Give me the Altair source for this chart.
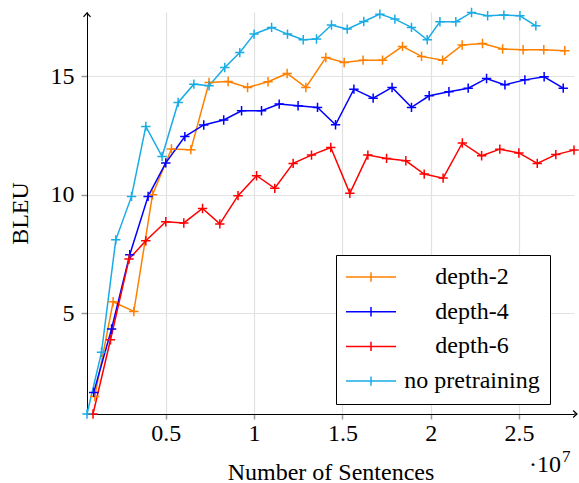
import altair as alt
import pandas as pd

# ---- data (x in units of 1e7 sentences, y = BLEU) ----
series_names = ["depth-2", "depth-4", "depth-6", "no pretraining"]
series_colors = ["#ff8000", "#0000ff", "#ff0000", "#1aace6"]

x_depth2 = [0.098, 0.202, 0.319, 0.425, 0.532, 0.642, 0.745, 0.853, 0.963, 1.079,
            1.187, 1.293, 1.406, 1.510, 1.617, 1.727, 1.840, 1.948, 2.067, 2.178,
            2.293, 2.407, 2.523, 2.640, 2.759]
y_depth2 = [1.50, 5.49, 5.08, 10.00, 11.93, 11.90, 14.73, 14.77, 14.52, 14.76,
            15.11, 14.52, 15.78, 15.57, 15.67, 15.67, 16.25, 15.83, 15.67, 16.31,
            16.37, 16.14, 16.11, 16.11, 16.07]

x_depth4 = [0.092, 0.193, 0.296, 0.400, 0.500, 0.608, 0.715, 0.828, 0.929, 1.042,
            1.142, 1.249, 1.359, 1.461, 1.565, 1.674, 1.781, 1.891, 1.991, 2.103,
            2.212, 2.316, 2.420, 2.533, 2.642, 2.750]
y_depth4 = [1.67, 4.34, 7.47, 9.93, 11.34, 12.45, 12.94, 13.15, 13.54, 13.54,
            13.82, 13.75, 13.68, 12.95, 14.45, 14.07, 14.52, 13.68, 14.17, 14.34,
            14.49, 14.90, 14.63, 14.84, 14.97, 14.49]

x_depth6 = [0.088, 0.187, 0.292, 0.387, 0.500, 0.602, 0.708, 0.806, 0.909, 1.014,
            1.117, 1.221, 1.325, 1.434, 1.542, 1.644, 1.750, 1.859, 1.963, 2.070,
            2.179, 2.288, 2.391, 2.499, 2.603, 2.708, 2.811]
y_depth6 = [0.76, 3.89, 7.29, 8.06, 8.86, 8.81, 9.42, 8.77, 9.96, 10.80,
            10.27, 11.32, 11.67, 11.99, 10.06, 11.67, 11.53, 11.43, 10.87, 10.70,
            12.18, 11.64, 11.92, 11.76, 11.32, 11.69, 11.88]

x_nopre = [0.054, 0.136, 0.217, 0.306, 0.387, 0.479, 0.570, 0.659, 0.745, 0.834,
           0.919, 1.000, 1.099, 1.189, 1.278, 1.353, 1.438, 1.527, 1.621, 1.712,
           1.797, 1.891, 1.980, 2.052, 2.142, 2.231, 2.322, 2.414, 2.505, 2.595]
y_nopre = [0.76, 3.36, 8.10, 9.93, 12.88, 11.61, 13.89, 14.66, 14.59, 15.36,
           15.99, 16.77, 17.05, 16.77, 16.53, 16.56, 17.15, 16.98, 17.30, 17.61,
           17.40, 17.05, 16.53, 17.29, 17.29, 17.68, 17.54, 17.57, 17.54, 17.12]

x_ticks = [0.5, 1, 1.5, 2, 2.5]
y_ticks = [5, 10, 15]
x_domain = [0.054, 2.811]
y_domain = [0.76, 17.70]

rows = []
for name, xs, ys in zip(series_names,
                        [x_depth2, x_depth4, x_depth6, x_nopre],
                        [y_depth2, y_depth4, y_depth6, y_nopre]):
    for i, (xv, yv) in enumerate(zip(xs, ys)):
        rows.append({"series": name, "x": xv, "bleu": yv, "order": i})
df = pd.DataFrame(rows)
one = pd.DataFrame({"k": [0]})

FONT = "Liberation Serif"
W, H = 487, 402

plus_path = "M-1,0L1,0M0,-1L0,1"
legend_path = "M-2.5,0L2.5,0M0,-0.47L0,0.47"

color = alt.Color(
    "series:N",
    scale=alt.Scale(domain=series_names, range=series_colors),
    legend=alt.Legend(
        title=None,
        orient="none",
        legendX=249,
        legendY=243,
        symbolType=legend_path,
        symbolSize=400,
        symbolStrokeWidth=1.5,
        symbolOffset=13,
        labelFont=FONT,
        labelFontSize=24,
        labelColor="black",
        labelAlign="center",
        labelOffset=89,
        labelLimit=400,
        rowPadding=10.7,
        padding=10,
        strokeColor="black",
        fillColor="white",
    ),
)

xenc = alt.X(
    "x:Q",
    scale=alt.Scale(domain=x_domain, nice=False, zero=False),
    axis=alt.Axis(
        values=x_ticks, format="~g", title="Number of Sentences",
        titleBaseline="alphabetic", titleY=65,
        labelPadding=2, tickSize=5,
    ),
)
yenc = alt.Y(
    "bleu:Q",
    scale=alt.Scale(domain=y_domain, nice=False, zero=False),
    axis=alt.Axis(
        values=y_ticks, format="d", title="BLEU",
        titleBaseline="alphabetic", titleX=-60, titleAngle=-90,
        labelPadding=7, tickSize=6,
    ),
)

lines = alt.Chart(df).mark_line(strokeWidth=1.5, clip=False).encode(
    x=xenc, y=yenc, color=color, order="order:Q"
)
points = alt.Chart(df).mark_point(
    shape=plus_path, filled=False, size=88, strokeWidth=1.5, opacity=1
).encode(x="x:Q", y="bleu:Q", color=alt.Color("series:N"))

arrow_up = alt.Chart(one).mark_point(
    shape="M-1,1.1L0,0L1,1.1", filled=False, size=50, strokeWidth=1.2,
    color="black", opacity=1
).encode(x=alt.value(0), y=alt.value(1))
arrow_right = alt.Chart(one).mark_point(
    shape="M-1.1,-1L0,0L-1.1,1", filled=False, size=50, strokeWidth=1.2,
    color="black", opacity=1
).encode(x=alt.value(W + 3), y=alt.value(H))
x_ext = alt.Chart(one).mark_rule(color="black", strokeWidth=1).encode(
    x=alt.value(W), x2=alt.value(W + 3), y=alt.value(H)
)

exp_base = alt.Chart(one).mark_text(
    text="·10", font=FONT, fontSize=24, align="right", baseline="alphabetic",
    color="black"
).encode(x=alt.value(474), y=alt.value(460))
exp_sup = alt.Chart(one).mark_text(
    text="7", font=FONT, fontSize=17, align="left", baseline="alphabetic",
    color="black"
).encode(x=alt.value(475), y=alt.value(450))

chart = alt.layer(lines, points, x_ext, arrow_up, arrow_right, exp_base, exp_sup).properties(
    width=W, height=H,
    padding={"left": 87, "top": 12, "right": 5, "bottom": 69},
    autosize=alt.AutoSizeParams(type="none"),
).configure_view(stroke=None).configure_axis(
    labelFont=FONT, titleFont=FONT, labelFontSize=24, titleFontSize=24,
    labelColor="black", titleColor="black", titleFontWeight="normal",
    domainColor="black", domainWidth=1,
    tickColor="#9a9a9a", tickWidth=1.5,
    gridColor="#e2e2e2", gridWidth=1.2,
).configure_axisY(labelBaseline="middle")

chart.save("out.html", embed_options={"renderer": "svg", "actions": False})
